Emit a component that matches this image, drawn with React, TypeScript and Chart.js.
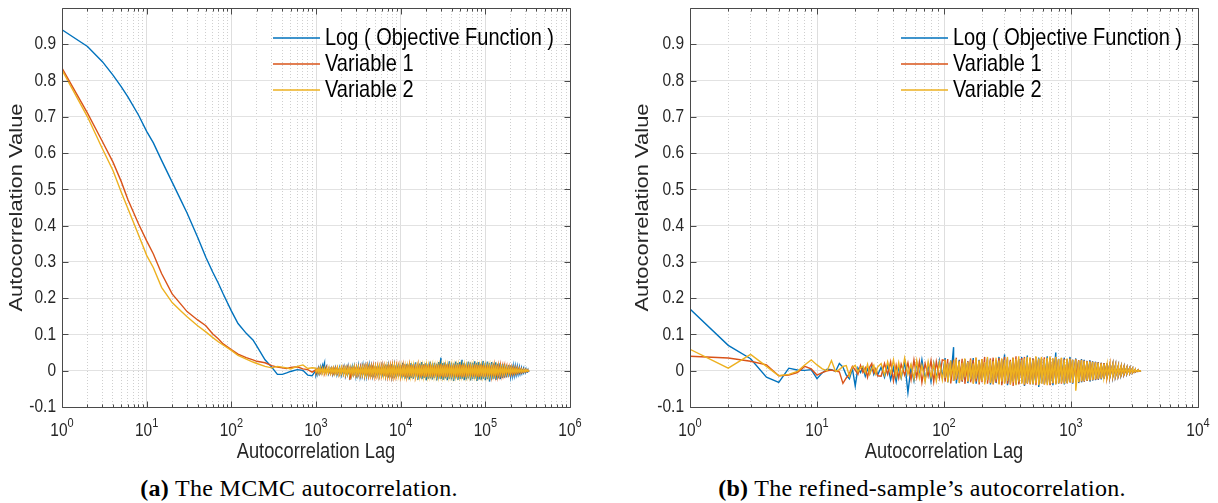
import React, { useEffect, useRef } from "react";
import { Chart, registerables } from "chart.js";

Chart.register(...registerables);

// ---------------- DATA : panel (a) MCMC autocorrelation ----------------
const lagsA = [1, 2, 3, 4, 5, 6, 8, 10, 12, 15, 20, 25, 30, 40, 50, 60, 70, 80, 100, 120, 150, 180, 200, 250, 300, 350, 400, 450, 500, 600, 700, 800, 900];
const blueA = [0.94, 0.894, 0.852, 0.815, 0.783, 0.755, 0.705, 0.66, 0.628, 0.58, 0.52, 0.473, 0.435, 0.368, 0.313, 0.273, 0.242, 0.212, 0.165, 0.13, 0.103, 0.085, 0.068, 0.03, 0.01, -0.01, -0.01, -0.006, -0.002, 0.003, 0.001, -0.012, -0.014];
const orangeA = [0.834, 0.71, 0.632, 0.575, 0.522, 0.472, 0.405, 0.358, 0.322, 0.268, 0.212, 0.185, 0.163, 0.14, 0.124, 0.102, 0.088, 0.074, 0.058, 0.046, 0.036, 0.03, 0.026, 0.022, 0.014, 0.01, 0.008, 0.006, 0.009, 0.011, 0.005, 0.003, -0.004];
const yellowA = [0.829, 0.7, 0.612, 0.552, 0.493, 0.447, 0.375, 0.318, 0.284, 0.23, 0.188, 0.166, 0.149, 0.124, 0.107, 0.092, 0.08, 0.071, 0.056, 0.042, 0.032, 0.024, 0.02, 0.012, 0.008, 0.012, 0.01, 0.008, 0.005, 0.012, 0.016, 0.006, 0.008];

// noisy tail of panel (a): upper / lower envelope per lag, in thousandths
const lagsAn = [1000, 1060, 1120, 1190, 1260, 1330, 1410, 1500, 1590, 1680, 1780, 1890, 2000, 2120, 2240, 2370, 2510, 2660, 2820, 2990, 3160, 3350, 3550, 3760, 3980, 4220, 4470, 4730, 5010, 5310, 5620, 5960, 6310, 6680, 7080, 7500, 7940, 8410, 8910, 9440, 10000, 10600, 11200, 11900, 12600, 13300, 14100, 15000, 15900, 16800, 17800, 18900, 20000, 21200, 22400, 23700, 25100, 26600, 28200, 29900, 31600, 33500, 35500, 37600, 39800, 42200, 44700, 47300, 50100, 53100, 56200, 59600, 63100, 66800, 70800, 75000, 79400, 84100, 89100, 94400, 100000, 106000, 112000, 119000, 126000, 133000, 141000, 150000, 159000, 168000, 178000, 189000, 200000, 212000, 224000, 237000, 251000, 266000, 282000, 299000, 316000, 330000];
const blueAnHi = [2, 6, 9, 14, 21, 12, 5, 6, 4, 7, 5, 8, 6, 9, 7, 10, 6, 9, 11, 8, 12, 10, 13, 11, 9, 14, 12, 15, 11, 13, 16, 12, 14, 17, 13, 15, 18, 14, 16, 19, 15, 22, 17, 19, 16, 21, 18, 23, 17, 20, 24, 18, 21, 19, 25, 20, 22, 19, 24, 36, 21, 23, 19, 26, 22, 20, 25, 21, 24, 30, 22, 20, 25, 23, 21, 26, 22, 24, 20, 27, 22, 25, 21, 24, 20, 23, 19, 21, 18, 19, 16, 15, 14, 12, 11, 10, 9, 7, 6, 5, 3, 0];
const blueAnLo = [-12, -8, -4, 0, 2, -3, -8, -6, -9, -7, -10, -8, -11, -9, -12, -10, -14, -11, -9, -13, -11, -14, -12, -15, -13, -11, -16, -13, -17, -14, -12, -18, -15, -13, -19, -16, -14, -20, -17, -15, -21, -18, -22, -19, -24, -20, -22, -19, -25, -21, -23, -20, -26, -22, -21, -24, -20, -27, -22, -23, -25, -21, -26, -22, -24, -28, -21, -25, -23, -22, -26, -24, -21, -27, -23, -22, -28, -24, -25, -22, -26, -23, -30, -24, -22, -25, -21, -23, -20, -19, -18, -16, -15, -13, -12, -10, -9, -8, -6, -5, -3, 0];
const orangeAnHi = [3, 6, 4, 7, 5, 8, 6, 5, 7, 6, 8, 5, 7, 9, 6, 8, 5, 9, 7, 10, 8, 11, 9, 10, 12, 9, 11, 13, 10, 12, 11, 13, 12, 14, 11, 13, 15, 12, 14, 13, 16, 14, 17, 15, 14, 16, 15, 18, 14, 16, 15, 17, 16, 15, 18, 16, 15, 17, 16, 18, 15, 17, 16, 18, 15, 17, 16, 15, 18, 16, 17, 15, 16, 18, 15, 17, 16, 15, 17, 16, 15, 17, 15, 16, 14, 15, 13, 14, 12, 12, 11, 10, 9, 8, 7, 7, 6, 5, 4, 3, 2, 0];
const orangeAnLo = [-6, -4, -7, -5, -8, -5, -7, -6, -8, -5, -7, -9, -6, -8, -11, -7, -25, -9, -8, -10, -9, -11, -10, -12, -10, -13, -11, -12, -14, -11, -13, -12, -15, -13, -14, -12, -15, -14, -13, -16, -14, -15, -17, -14, -16, -15, -17, -14, -16, -18, -15, -16, -17, -15, -16, -18, -15, -17, -16, -15, -18, -16, -17, -15, -18, -16, -17, -18, -15, -17, -16, -18, -15, -16, -17, -15, -16, -17, -15, -16, -17, -15, -16, -14, -15, -13, -14, -12, -12, -11, -10, -9, -9, -8, -7, -6, -5, -5, -4, -3, -2, 0];
const yellowAnHi = [7, 5, 8, 6, 7, 5, 8, 6, 7, 5, 8, 6, 9, 7, 8, 6, 9, 7, 10, 8, 9, 7, 10, 9, 11, 9, 10, 8, 11, 10, 12, 10, 11, 12, 10, 12, 11, 13, 11, 12, 13, 11, 13, 12, 14, 12, 13, 11, 14, 12, 13, 12, 14, 13, 12, 14, 13, 12, 14, 13, 12, 14, 13, 12, 14, 13, 12, 14, 13, 12, 14, 13, 12, 13, 14, 12, 13, 12, 14, 12, 13, 12, 13, 12, 12, 11, 11, 10, 10, 9, 9, 8, 8, 7, 6, 6, 5, 4, 3, 3, 2, 0];
const yellowAnLo = [-4, -6, -5, -7, -6, -8, -5, -7, -6, -8, -7, -9, -7, -8, -10, -8, -9, -11, -9, -10, -9, -11, -10, -12, -10, -11, -12, -10, -12, -11, -13, -11, -12, -13, -11, -13, -12, -14, -12, -13, -14, -12, -14, -13, -12, -14, -13, -15, -12, -14, -13, -14, -12, -14, -13, -12, -14, -13, -15, -12, -14, -13, -12, -14, -13, -15, -13, -12, -14, -13, -12, -14, -13, -14, -12, -13, -14, -12, -13, -14, -12, -13, -14, -12, -12, -11, -11, -10, -10, -9, -8, -8, -7, -6, -6, -5, -4, -4, -3, -2, -1, 0];

// ---------------- DATA : panel (b) refined-sample autocorrelation ----------------
// single values, thousandths
const lagsB = [1, 2, 3, 4, 5, 6, 7, 8, 9, 10, 11, 12, 13, 14, 15, 16, 17, 18, 19, 20, 21, 22, 23, 24, 25, 26, 27, 28, 29, 30, 32, 34, 36, 38, 40, 42, 44, 46, 49, 52, 55, 58, 61, 64, 67, 71, 75, 79, 83, 87, 92, 97];
const blueB = [170, 70, 33, -18, -32, 7, 2, 1, 3, -22, -6, 4, 3, -2, 20, 10, -12, -22, 6, -42, 8, -5, 10, -15, 5, -8, 12, -10, 4, -12, 10, -18, 15, -25, 8, -30, 12, -20, 25, -60, 10, -28, 22, -15, 30, -25, 18, -30, 20, -22, 28, -18];
const orangeB = [40, 35, 26, 16, -14, -12, -5, 12, 5, -12, -5, 0, 2, -1, -3, -35, -20, -8, 12, 2, -10, 15, -5, 8, -18, 10, 20, -6, 5, -14, -15, 20, -10, 25, -28, 15, -20, 18, -12, 22, -25, 30, -18, 25, -32, 20, -15, 28, -30, 25, -20, 30];
const yellowB = [59, 7, 45, 12, -14, -10, -2, 16, 30, 16, 5, 0, 28, -2, 3, 12, 14, -15, 10, 15, -3, 8, 12, -6, 18, -10, 5, 15, -8, 10, 20, -12, 25, -8, 30, -15, 22, -18, 35, -10, 18, -22, 28, -20, 15, -30, 25, -18, 20, -28, 22, -25];

// dense tail of panel (b): upper / lower envelope per lag, thousandths
const lagsBn = [102, 107, 113, 119, 125, 132, 139, 146, 154, 162, 170, 179, 189, 199, 209, 220, 232, 244, 257, 271, 285, 300, 316, 333, 350, 369, 388, 409, 430, 453, 477, 502, 529, 557, 586, 617, 650, 684, 720, 759, 799, 841, 886, 933, 982, 1030, 1090, 1150, 1210, 1270, 1340, 1410, 1480, 1560, 1640, 1730, 1820, 1920, 2020, 2130, 2240, 2360, 2480, 2610, 2750, 2900, 3050, 3210, 3380, 3560];
const blueBnHi = [35, 22, 28, 65, 25, 30, 20, 32, 26, 22, 35, 24, 30, 28, 22, 34, 26, 30, 24, 38, 28, 45, 30, 26, 35, 28, 32, 38, 26, 42, 30, 34, 28, 36, 32, 30, 40, 35, 28, 50, 33, 30, 36, 32, 38, 30, 34, 28, 32, 30, 27, 29, 26, 25, 24, 22, 21, 20, 18, 17, 15, 14, 12, 11, 9, 8, 6, 4, 2, 0];
const blueBnLo = [-25, -32, -20, -28, -35, -22, -30, -26, -34, -28, -24, -36, -30, -28, -32, -25, -38, -30, -34, -28, -36, -30, -40, -32, -28, -38, -35, -30, -42, -34, -32, -38, -30, -45, -34, -36, -32, -38, -40, -33, -36, -30, -38, -34, -32, -36, -30, -34, -32, -30, -28, -30, -27, -26, -25, -24, -22, -21, -19, -18, -16, -14, -13, -11, -10, -8, -6, -4, -2, 0];
const orangeBnHi = [28, 32, 25, 30, 36, 28, 33, 30, 26, 34, 30, 36, 28, 32, 38, 30, 34, 36, 30, 35, 32, 38, 34, 30, 36, 40, 33, 35, 38, 32, 36, 34, 38, 32, 35, 37, 33, 36, 34, 38, 32, 35, 33, 31, 34, 30, 32, 29, 30, 28, 27, 26, 25, 24, 23, 22, 21, 20, 18, 17, 15, 14, 12, 11, 9, 8, 6, 4, 2, 0];
const orangeBnLo = [-30, -22, -35, -28, -25, -33, -30, -36, -28, -32, -35, -30, -38, -32, -30, -36, -34, -38, -32, -36, -40, -34, -36, -38, -42, -35, -38, -34, -40, -36, -38, -35, -40, -36, -34, -38, -36, -40, -35, -37, -34, -36, -33, -35, -32, -34, -31, -32, -30, -30, -28, -27, -26, -25, -24, -22, -21, -20, -18, -17, -15, -14, -12, -11, -9, -8, -6, -4, -2, 0];
const yellowBnHi = [30, 20, 28, 18, 32, 26, 22, 34, 24, 30, 20, 36, 28, 32, 24, 38, 30, 26, 36, 28, 34, 30, 38, 26, 36, 32, 40, 30, 34, 38, 36, 30, 40, 34, 38, 32, 36, 40, 34, 38, 32, 36, 30, 34, 32, 30, 31, 28, 29, 27, 26, 25, 24, 23, 22, 20, 19, 18, 17, 16, 14, 13, 12, 10, 9, 7, 6, 4, 2, 0];
const yellowBnLo = [-20, -32, -15, -28, -22, -34, -26, -18, -30, -24, -36, -22, -32, -28, -38, -26, -34, -36, -24, -38, -30, -36, -28, -38, -32, -40, -30, -36, -38, -34, -36, -38, -34, -40, -36, -38, -40, -36, -34, -38, -35, -33, -36, -34, -32, -33, -55, -31, -29, -28, -27, -26, -25, -23, -22, -21, -19, -18, -16, -15, -14, -12, -11, -9, -8, -7, -5, -3, -2, 0];

// ---------------- labels / ticks ----------------
const seriesNames = ["Log ( Objective Function )", "Variable 1", "Variable 2"];
const seriesColors = ["#0072BD", "#D95319", "#EDB120"];
const yTickValues = [-0.1, 0, 0.1, 0.2, 0.3, 0.4, 0.5, 0.6, 0.7, 0.8, 0.9];
const xAxisTitle = "Autocorrelation Lag";
const yAxisTitle = "Autocorrelation Value";
const captionA = ["(a)", "The MCMC autocorrelation."];
const captionB = ["(b)", "The refined-sample\u2019s autocorrelation."];

const AXIS_COLOR = "#4a4a4a";
const TEXT_COLOR = "#262626";
const FONT = '"Liberation Sans", Arial, Helvetica, sans-serif';
const SY = 1.2; // the figure is slightly stretched vertically

function pts(lags: number[], vals: number[], k = 1) {
  const n = Math.min(lags.length, vals.length);
  const out: { x: number; y: number }[] = [];
  for (let i = 0; i < n; i++) out.push({ x: lags[i], y: vals[i] * k });
  return out;
}

// dense noise: at every lag, a stroke from the upper to the lower envelope
function band(lags: number[], hi: number[], lo: number[], k = 0.001) {
  const n = Math.min(lags.length, hi.length, lo.length);
  const out: { x: number; y: number }[] = [];
  for (let i = 0; i < n; i++) {
    out.push({ x: lags[i], y: hi[i] * k });
    out.push({ x: lags[i], y: lo[i] * k });
  }
  return out;
}

function logTicks(maxExp: number) {
  const t: { value: number; major: boolean }[] = [];
  for (let e = 0; e <= maxExp; e++) {
    const b = Math.pow(10, e);
    t.push({ value: b, major: true });
    if (e < maxExp) for (let m = 2; m <= 9; m++) t.push({ value: m * b, major: false });
  }
  return t;
}

function stretchedText(ctx: CanvasRenderingContext2D, s: string, x: number, y: number) {
  ctx.save();
  ctx.translate(x, y);
  ctx.scale(1, SY);
  ctx.fillText(s, 0, 0);
  ctx.restore();
}

const matlabPlugin = {
  id: "matlabAxes",
  afterDraw(chart: any, _args: any, opts: any) {
    const { ctx, chartArea: a, scales } = chart;
    const xs = scales.x;
    const ys = scales.y;
    const L = Math.round(a.left) + 0.5;
    const R = Math.round(a.right) + 0.5;
    const T = Math.round(a.top) + 0.5;
    const B = Math.round(a.bottom) + 0.5;
    ctx.save();
    ctx.strokeStyle = AXIS_COLOR;
    ctx.lineWidth = 1;
    ctx.beginPath();
    ctx.rect(L, T, R - L, B - T);
    for (const t of xs.ticks) {
      const px = Math.round(xs.getPixelForValue(t.value)) + 0.5;
      const len = t.major ? 6 : 3;
      ctx.moveTo(px, B);
      ctx.lineTo(px, B - len);
      ctx.moveTo(px, T);
      ctx.lineTo(px, T + len);
    }
    for (const t of ys.ticks) {
      const py = Math.round(ys.getPixelForValue(t.value)) + 0.5;
      ctx.moveTo(L, py);
      ctx.lineTo(L + 6, py);
      ctx.moveTo(R, py);
      ctx.lineTo(R - 6, py);
    }
    ctx.stroke();

    ctx.fillStyle = TEXT_COLOR;
    ctx.font = `15.5px ${FONT}`;
    ctx.textAlign = "right";
    ctx.textBaseline = "middle";
    for (const t of ys.ticks) {
      const v = Math.round(t.value * 10) / 10;
      stretchedText(ctx, String(v), a.left - 6, ys.getPixelForValue(t.value));
    }
    ctx.textBaseline = "alphabetic";
    ctx.textAlign = "left";
    for (const t of xs.ticks) {
      if (!t.major) continue;
      const e = String(Math.round(Math.log10(t.value)));
      const px = xs.getPixelForValue(t.value);
      ctx.font = `15.5px ${FONT}`;
      const wb = ctx.measureText("10").width;
      ctx.font = `11px ${FONT}`;
      const we = ctx.measureText(e).width;
      const x0 = px - (wb + we) / 2;
      ctx.font = `15.5px ${FONT}`;
      stretchedText(ctx, "10", x0, a.bottom + 29);
      ctx.font = `11px ${FONT}`;
      stretchedText(ctx, e, x0 + wb, a.bottom + 20);
    }
    ctx.font = `18.3px ${FONT}`;
    ctx.textAlign = "center";
    ctx.textBaseline = "middle";
    stretchedText(ctx, xAxisTitle, (a.left + a.right) / 2, a.bottom + 45);
    ctx.save();
    ctx.translate(opts.yTitleX, (a.top + a.bottom) / 2);
    ctx.rotate(-Math.PI / 2);
    ctx.scale(SY, 1);
    ctx.fillText(yAxisTitle, 0, 0);
    ctx.restore();

    ctx.font = `20px ${FONT}`;
    ctx.textAlign = "left";
    ctx.textBaseline = "middle";
    seriesNames.forEach((name, i) => {
      const y = a.top + 30 + i * 26;
      ctx.strokeStyle = seriesColors[i];
      ctx.lineWidth = 1.5;
      ctx.beginPath();
      ctx.moveTo(a.right - 297, y);
      ctx.lineTo(a.right - 250, y);
      ctx.stroke();
      ctx.fillStyle = "#000";
      stretchedText(ctx, name, a.right - 245, y);
    });
    ctx.restore();
  },
};

type Panel = {
  maxExp: number;
  padLeft: number;
  padRight: number;
  yTitleX: number;
  series: { x: number; y: number }[][];
};

const W = 609;
const H = 470;
const TOP = 8;
const BOTTOM = 407;

function makeConfig(p: Panel): any {
  const xt = logTicks(p.maxExp);
  return {
    type: "line",
    data: {
      datasets: p.series.map((d, i) => ({
        label: seriesNames[i],
        data: d,
        borderColor: seriesColors[i],
        backgroundColor: seriesColors[i],
        borderWidth: 1.4,
        pointRadius: 0,
        tension: 0,
        fill: false,
        order: 3 - i,
      })),
    },
    options: {
      animation: false,
      responsive: false,
      devicePixelRatio: 1,
      events: [],
      layout: { padding: { top: TOP, right: p.padRight, left: 0, bottom: 0 } },
      plugins: {
        legend: { display: false },
        tooltip: { enabled: false },
        matlabAxes: { yTitleX: p.yTitleX },
      },
      scales: {
        x: {
          type: "logarithmic",
          min: 1,
          max: Math.pow(10, p.maxExp),
          afterBuildTicks: (s: any) => {
            s.ticks = xt.map((t) => ({ value: t.value, major: t.major }));
          },
          afterFit: (s: any) => {
            s.height = H - BOTTOM;
          },
          ticks: { display: false },
          grid: {
            drawTicks: false,
            lineWidth: 1,
            color: (c: any) => (c.tick && c.tick.major ? "#dedede" : "#cfcfcf"),
          },
          border: {
            display: false,
            dash: (c: any) => (c.tick && c.tick.major ? [] : [1, 2]),
          },
        },
        y: {
          type: "linear",
          min: -0.1,
          max: 1.0,
          afterBuildTicks: (s: any) => {
            s.ticks = yTickValues.map((v) => ({ value: v }));
          },
          afterFit: (s: any) => {
            s.width = p.padLeft;
          },
          ticks: { display: false },
          grid: { drawTicks: false, lineWidth: 1, color: "#e2e2e2" },
          border: { display: false },
        },
      },
    },
    plugins: [matlabPlugin],
  };
}

function ChartPanel({ panel, left }: { panel: Panel; left: number }) {
  const ref = useRef<HTMLCanvasElement | null>(null);
  useEffect(() => {
    if (!ref.current) return;
    const chart = new Chart(ref.current, makeConfig(panel));
    return () => chart.destroy();
  }, []);
  return (
    <canvas
      ref={ref}
      width={W}
      height={H}
      style={{ position: "absolute", left, top: 0, width: W, height: H }}
    />
  );
}

const panelA: Panel = {
  maxExp: 6,
  padLeft: 62,
  padRight: W - 570,
  yTitleX: 17,
  series: [
    [...pts(lagsA, blueA), ...band(lagsAn, blueAnHi, blueAnLo)],
    [...pts(lagsA, orangeA), ...band(lagsAn, orangeAnHi, orangeAnLo)],
    [...pts(lagsA, yellowA), ...band(lagsAn, yellowAnHi, yellowAnLo)],
  ],
};

const panelB: Panel = {
  maxExp: 4,
  padLeft: 690 - W,
  padRight: W - (1198 - W),
  yTitleX: 643 - W,
  series: [
    [...pts(lagsB, blueB, 0.001), ...band(lagsBn, blueBnHi, blueBnLo)],
    [...pts(lagsB, orangeB, 0.001), ...band(lagsBn, orangeBnHi, orangeBnLo)],
    [...pts(lagsB, yellowB, 0.001), ...band(lagsBn, yellowBnHi, yellowBnLo)],
  ],
};

function Caption({ parts, center }: { parts: string[]; center: number }) {
  return (
    <div
      style={{
        position: "absolute",
        left: center - 300,
        width: 600,
        top: 475,
        textAlign: "center",
        fontFamily: '"Liberation Serif", "DejaVu Serif", serif',
        fontSize: 24,
        letterSpacing: "0.3px",
        lineHeight: "26px",
        color: "#000",
        whiteSpace: "nowrap",
      }}
    >
      <b>{parts[0]}</b> {parts[1]}
    </div>
  );
}

export default function App() {
  return (
    <div
      style={{
        position: "absolute",
        left: 0,
        top: 0,
        width: 1218,
        height: 503,
        background: "#fff",
        overflow: "hidden",
      }}
    >
      <ChartPanel panel={panelA} left={0} />
      <ChartPanel panel={panelB} left={W} />
      <Caption parts={captionA} center={299} />
      <Caption parts={captionB} center={922} />
    </div>
  );
}
